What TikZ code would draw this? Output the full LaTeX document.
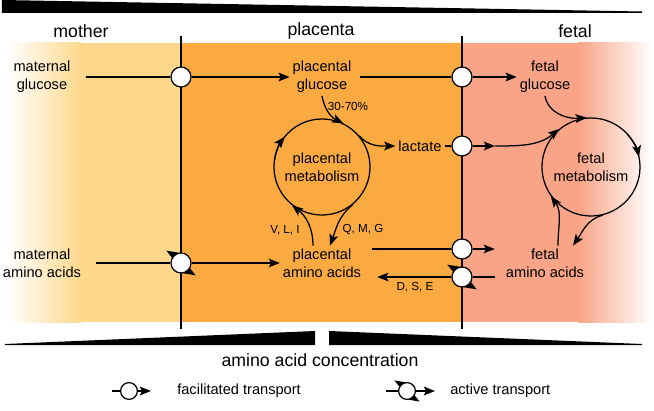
\documentclass[tikz,border=0pt]{standalone}
\usepackage{fontspec}
\setmainfont{Liberation Sans}
\usepackage{xcolor}
\usepackage{tikz}
\usetikzlibrary{arrows.meta,positioning,calc}

\definecolor{momyellow}{HTML}{FDD88C}
\definecolor{placorange}{HTML}{FAAA41}
\definecolor{fetsalmon}{HTML}{F9A486}

\begin{document}
\begin{tikzpicture}[
    x=0.025cm, y=0.025cm,
    wire/.style={line width=0.9pt},
    arrow/.style={line width=0.9pt, -{Stealth[length=0.28cm, width=0.22cm, inset=0.06cm]}},
    txt/.style={align=center, font=\fontsize{10.4}{12.8}\selectfont, inner sep=2pt},
    head/.style={font=\fontsize{12.6}{15}\selectfont},
    tag/.style={font=\fontsize{8.3}{10}\selectfont, inner sep=1pt},
    legtxt/.style={font=\fontsize{10.4}{12}\selectfont, anchor=west, inner sep=0pt},
    trans/.style={circle, draw, fill=white, line width=0.9pt, minimum size=0.5cm, inner sep=0pt},
    legtrans/.style={trans, minimum size=0.42cm},
    metab/.style={circle, draw, line width=0.9pt, align=center, inner sep=0pt, font=\fontsize{10.4}{12.8}\selectfont}
]
\useasboundingbox (0,0) rectangle (654,410);

% compartments
\fill[momyellow] (80,88) rectangle (181,367);
\shade[left color=white, right color=momyellow] (8,88) rectangle (81,367);
\fill[placorange] (181,88) rectangle (462,367);
\fill[fetsalmon] (462,88) rectangle (579,367);
\shade[left color=fetsalmon, right color=white] (578,88) rectangle (652,367);

% concentration wedges
\fill (2,410) -- (642,398.5) -- (642,397) -- (2,397) -- cycle;
\fill (5,66) -- (315,79) -- (315,65) -- (5,65) -- cycle;
\fill (329,79) -- (642,66) -- (642,65) -- (329,65) -- cycle;

\draw[wire] (181,374) -- (181,81);
\draw[wire] (462,374) -- (462,81);

\node[head] (mother) at (81,379) {mother};
\node[head] (placenta) at (321,379) {placenta};
\node[head] (fetal) at (575,379) {fetal};

\node[txt] (mglc) at (42,333) {maternal\\glucose};
\node[txt] (pglc) at (322,333) {placental\\glucose};
\node[txt] (fglc) at (545,333) {fetal\\glucose};
\node[txt] (lac) at (420,264) {lactate};
\node[txt] (maa) at (42,147) {maternal\\amino acids};
\node[txt] (paa) at (322,147) {placental\\amino acids};
\node[txt] (faa) at (545,147) {fetal\\amino acids};

\node[metab, minimum size=2.4cm] (pmet) at (322,243) {placental\\metabolism};
\node[metab, minimum size=2.45cm] (fmet) at (591,243) {fetal\\metabolism};

\node[trans] (tg1) at (181,333) {};
\node[trans] (tg2) at (462,333) {};
\node[trans] (tl) at (462,264) {};
\node[trans] (ta1) at (181,147) {};
\node[trans] (tf1) at (462,161) {};
\node[trans] (ta2) at (462,133) {};

% glucose and lactate
\draw[wire, shorten <=0.3cm] (mglc) -- (tg1);
\draw[arrow] (tg1) -- (pglc);
\draw[wire, shorten <=0.15cm] (pglc) -- (tg2);
\draw[arrow] (tg2) -- (fglc);
\draw[arrow] (pglc.south) to[out=-80, in=154] (pmet.64);
\node[tag] (pct) at (348,304) {30-70\%};
\draw[arrow] (pmet.40) to[out=-50, in=180] (lac);
\draw[wire] (lac) -- (tl);
\coordinate (lacmid) at (495,264);
\draw[arrow] (tl) -- (lacmid);
\draw[arrow] (lacmid) to[out=0, in=-140] (fmet.130);

% amino acids
\draw[wire, shorten <=0.3cm] (maa) -- (ta1);
\draw[arrow] (ta1) -- (paa);
\draw[wire, shorten <=0.2cm] (paa.east |- tf1) -- (tf1);
\draw[arrow, shorten >=0.2cm] (tf1) -- (faa.west |- tf1);
\draw[wire, shorten <=0.2cm] (faa.west |- ta2) -- (ta2);
\draw[arrow, shorten >=0.33cm] (ta2) -- (paa.east |- ta2);
\node[tag] (dse) at (415,123) {D, S, E};

% placental cycle
\draw[arrow] ([shift={(pmet)}]172:1.2cm) arc[start angle=172, end angle=141, radius=1.2cm];
\draw[arrow] ([xshift=-0.225cm]paa.north) to[out=90, in=-38] (pmet.232);
\draw[arrow] (pmet.-51) to[out=-141, in=70] ([xshift=0.2cm]paa.north);
\node[tag] (vli) at (285,180) {V, L, I};
\node[tag] (qmg) at (363,180) {Q, M, G};

% fetal cycle
\draw[arrow] (fglc.south) to[out=-80, in=185] (fmet.95);
\draw[arrow] ([shift={(fmet)}]42:1.225cm) arc[start angle=42, end angle=12, radius=1.225cm];
\draw[arrow] (fmet.-76) to[out=194, in=55] ([xshift=0.7cm]faa.north);
\draw[arrow] ([xshift=0.325cm]faa.north) to[out=90, in=-54] (fmet.216);

% legend
\node[head] (aac) at (320,50) {amino acid concentration};
\coordinate (lf0) at (112,19);
\node[legtrans] (lfac) at (129,19) {};
\coordinate (lf1) at (151,19);
\draw[wire] (lf0) -- (lfac);
\draw[arrow] (lfac) -- (lf1);
\node[legtxt] (lfactxt) at (177,19) {facilitated transport};
\coordinate (la0) at (386,19);
\node[legtrans] (lact) at (407,19) {};
\coordinate (la1) at (435,19);
\draw[wire] (la0) -- (lact);
\draw[arrow] (lact) -- (la1);
\node[legtxt] (lacttxt) at (450,19) {active transport};

% pump heads on active transporters
\foreach \p/\r/\s in {ta1/0.26/0.48, ta2/0.26/0.48, lact/0.22/0.41} {
  \fill ([shift={(\p)}]100:\r cm) arc[start angle=100, end angle=150, radius=\r cm] -- ([shift={(\p)}]140:\s cm) -- cycle;
  \fill ([shift={(\p)}]280:\r cm) arc[start angle=280, end angle=330, radius=\r cm] -- ([shift={(\p)}]320:\s cm) -- cycle;
}
\end{tikzpicture}
\end{document}
